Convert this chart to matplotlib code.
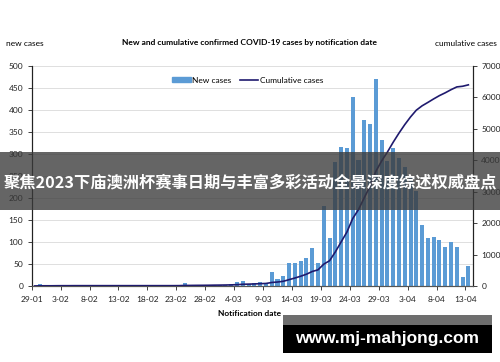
#!/usr/bin/python3

import numpy as np
import matplotlib
matplotlib.use("Agg")
import matplotlib.pyplot as plt
from matplotlib.patches import Rectangle, Patch
from matplotlib.lines import Line2D

# daily new cases, 29-01 .. 13-04 (one value per day)
new_cases = [1, 4, 1, 0, 2, 1, 0, 1, 0, 0,
             0, 0, 0, 0, 0, 0, 0, 0, 0, 0,
             0, 0, 0, 0, 0, 1, 6, 1, 2, 1,
             2, 3, 2, 3, 4, 8, 11, 5, 6, 8,
             7, 31, 15, 23, 52, 52, 57, 64, 87, 52,
             182, 108, 282, 317, 314, 429, 286, 377, 368, 470,
             332, 283, 313, 290, 270, 245, 215, 139, 108, 112,
             105, 89, 99, 88, 21, 45]

cumulative = [1, 5, 6, 6, 8, 9, 9, 10, 10, 10,
              10, 10, 10, 10, 10, 10, 10, 10, 10, 10,
              10, 10, 10, 10, 10, 11, 17, 18, 20, 21,
              23, 26, 28, 31, 35, 43, 54, 59, 65, 73,
              80, 111, 126, 149, 201, 253, 310, 374, 461, 513,
              695, 803, 1085, 1402, 1716, 2145, 2431, 2808, 3176, 3646,
              3978, 4261, 4574, 4864, 5134, 5379, 5594, 5733, 5841, 5953,
              6058, 6147, 6246, 6334, 6355, 6400]

tick_labels = ["29-01", "3-02", "8-02", "13-02", "18-02", "23-02", "28-02",
               "4-03", "9-03", "14-03", "19-03", "24-03", "29-03", "3-04",
               "8-04", "13-04"]

BAR = "#5B9BD5"
LINE = "#1F1A6E"


def main():
    plt.rcParams["font.family"] = ["Lato", "DejaVu Sans"]
    fig = plt.figure(figsize=(5.0, 3.62), dpi=100)
    ax = fig.add_axes([0.0634, 0.210, 0.8826, 0.6077])
    ax2 = ax.twinx()

    days = np.arange(len(new_cases))
    ax.bar(days + 0.5, new_cases, width=0.7, color=BAR, zorder=2)
    ax2.plot(days + 0.5, cumulative, color=LINE, lw=1.2, zorder=3)

    ax.set_xlim(0, 76.3)
    ax.set_ylim(0, 500)
    ax2.set_ylim(0, 7000)
    ax.set_yticks(np.arange(0, 501, 50))
    ax2.set_yticks(np.arange(0, 7001, 1000))
    ax.set_xticks(np.arange(0, 76, 5))
    ax.set_xticklabels(tick_labels)

    ax.grid(axis="y", color="#d9d9d9", lw=0.6, zorder=0)
    ax.set_axisbelow(True)
    for a in (ax, ax2):
        a.spines["top"].set_visible(False)
        a.spines["left"].set_color("#222222")
        a.spines["right"].set_color("#222222")
        a.spines["bottom"].set_color("#555555")
        a.spines["left"].set_linewidth(0.8)
        a.spines["right"].set_linewidth(0.8)
        a.tick_params(labelsize=6, length=3, width=0.6, pad=3, colors="#222222")
    ax.tick_params(axis="x", pad=4)

    # legend
    handles = [Patch(color=BAR, label="New cases"),
               Line2D([], [], color=LINE, lw=1.2, label="Cumulative cases")]
    ax.legend(handles=handles, loc="center", bbox_to_anchor=(0.49, 0.936),
              ncol=2, frameon=False, fontsize=6, handlelength=2.2,
              handleheight=0.5, columnspacing=1.0, handletextpad=0.2)

    fig.text(0.5, 1 - 43 / 362, "New and cumulative confirmed COVID-19 cases by notification date",
             ha="center", va="center", fontsize=6, fontweight="bold")
    fig.text(0.012, 1 - 43 / 362, "new cases", ha="left", va="center", fontsize=6)
    fig.text(0.994, 1 - 43 / 362, "cumulative cases", ha="right", va="center", fontsize=6)
    fig.text(0.5, 1 - 313 / 362, "Notification date", ha="center", va="center",
             fontsize=6, fontweight="bold")

    # overlay banner
    fig.patches.append(Rectangle((0, 1 - 210 / 362), 1, 58 / 362, transform=fig.transFigure,
                                 facecolor="#3a3a3a", alpha=0.78, zorder=10))
    fig.text(0.5, 1 - 182 / 362, "聚焦2023下庙澳洲杯赛事日期与丰富多彩活动全景深度综述权威盘点",
             ha="center", va="center", fontsize=11.7, fontweight="bold", color="white",
             family=["Noto Sans CJK SC", "DejaVu Sans"], zorder=11)

    # watermark box
    fig.patches.append(Rectangle((283 / 500, 1 - 325 / 362), 209 / 500, 10 / 362,
                                 transform=fig.transFigure, facecolor="#6e6e6e", zorder=10))
    fig.patches.append(Rectangle((283 / 500, 1 - 353 / 362), 209 / 500, 28 / 362,
                                 transform=fig.transFigure, facecolor="black", zorder=10))
    fig.text(387 / 500, 1 - 338 / 362, "www.mj-mahjong.com", ha="center", va="center",
             fontsize=12.5, fontweight="bold", color="white",
             family=["Liberation Sans", "DejaVu Sans"], zorder=11)

    fig.savefig("out.png", dpi=100)


if __name__ == "__main__":
    main()
